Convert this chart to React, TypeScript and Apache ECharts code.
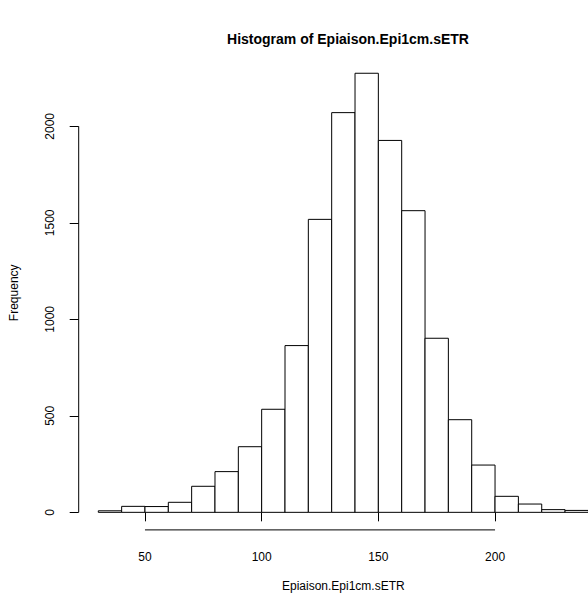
import React, { useEffect, useRef } from "react";
import * as echarts from "echarts";

const binStarts = [30, 40, 50, 60, 70, 80, 90, 100, 110, 120, 130, 140, 150, 160, 170, 180, 190, 200, 210, 220, 230];
const binWidth = 10;
const counts = [8, 31, 30, 52, 135, 211, 340, 534, 864, 1518, 2071, 2275, 1927, 1563, 902, 480, 245, 83, 43, 14, 10];
const xTicks = [50, 100, 150, 200];
const yTicks = [0, 500, 1000, 1500, 2000];

const titleText = "Histogram of Epiaison.Epi1cm.sETR";
const xName = "Epiaison.Epi1cm.sETR";
const yName = "Frequency";

export default function App() {
  const ref = useRef<HTMLDivElement>(null);
  useEffect(() => {
    if (!ref.current) return;
    const chart = echarts.init(ref.current, null, { renderer: "svg" });
    const xMinBreak = binStarts[0];
    const xMaxBreak = binStarts[binStarts.length - 1] + binWidth;
    const xPad = (xMaxBreak - xMinBreak) * 0.04;
    const yMaxC = Math.max(...counts);
    const yPad = yMaxC * 0.04;
    const xMin = xMinBreak - xPad;
    const xMax = xMaxBreak + xPad;
    const yMin = -yPad;
    const yMax = yMaxC + yPad;
    const font = "Liberation Sans, Arial, Helvetica, sans-serif";

    const barData = binStarts.map((s, i) => [s, s + binWidth, counts[i]]);

    chart.setOption({
      animation: false,
      backgroundColor: "#ffffff",
      title: {
        text: titleText,
        left: 343,
        top: 27,
        textAlign: "center",
        textStyle: { fontFamily: font, fontSize: 14, fontWeight: "bold", color: "#000" },
      },
      grid: { left: 78.7, top: 55.7, width: 529.3, height: 474.2, containLabel: false, outerBoundsMode: "none" },
      xAxis: {
        type: "value",
        min: xMin,
        max: xMax,
        name: xName,
        nameLocation: "middle",
        nameGap: 50,
        nameTextStyle: { fontFamily: font, fontSize: 12, color: "#000" },
        axisLine: { show: false },
        axisTick: { show: true, customValues: xTicks, length: 9, lineStyle: { color: "#000", width: 1 } },
        axisLabel: { show: true, customValues: xTicks, margin: 21, fontFamily: font, fontSize: 12, color: "#000", formatter: (v: number) => String(v) },
        splitLine: { show: false },
      },
      yAxis: {
        type: "value",
        min: yMin,
        max: yMax,
        name: yName,
        nameLocation: "middle",
        nameRotate: 90,
        nameGap: 59,
        nameTextStyle: { fontFamily: font, fontSize: 12, color: "#000" },
        axisLine: { show: false },
        axisTick: { show: true, customValues: yTicks, length: 9, lineStyle: { color: "#000", width: 1 } },
        axisLabel: { show: true, customValues: yTicks, rotate: 90, margin: 23, fontFamily: font, fontSize: 12, color: "#000", formatter: (v: number) => String(v) },
        splitLine: { show: false },
      },
      series: [
        {
          type: "custom",
          data: barData,
          clip: false,
          renderItem: (params: any, api: any) => {
            const p0 = api.coord([api.value(0), api.value(2)]);
            const p1 = api.coord([api.value(1), 0]);
            return {
              type: "rect",
              shape: { x: p0[0], y: p0[1], width: p1[0] - p0[0], height: p1[1] - p0[1] },
              style: { fill: "#ffffff", stroke: "#000000", lineWidth: 1 },
            };
          },
        },
        {
          type: "custom",
          data: [[0]],
          clip: false,
          renderItem: (params: any, api: any) => {
            const xa = api.coord([xTicks[0], yMin]);
            const xb = api.coord([xTicks[xTicks.length - 1], yMin]);
            const ya = api.coord([xMin, yTicks[0]]);
            const yb = api.coord([xMin, yTicks[yTicks.length - 1]]);
            return {
              type: "group",
              children: [
                { type: "line", shape: { x1: xa[0], y1: xa[1], x2: xb[0], y2: xb[1] }, style: { stroke: "#000", lineWidth: 1 } },
                { type: "line", shape: { x1: ya[0], y1: ya[1], x2: yb[0], y2: yb[1] }, style: { stroke: "#000", lineWidth: 1 } },
              ],
            };
          },
        },
      ],
    });
    return () => chart.dispose();
  }, []);
  return <div ref={ref} style={{ position: "fixed", left: 0, top: 0, width: 588, height: 607 }} />;
}
